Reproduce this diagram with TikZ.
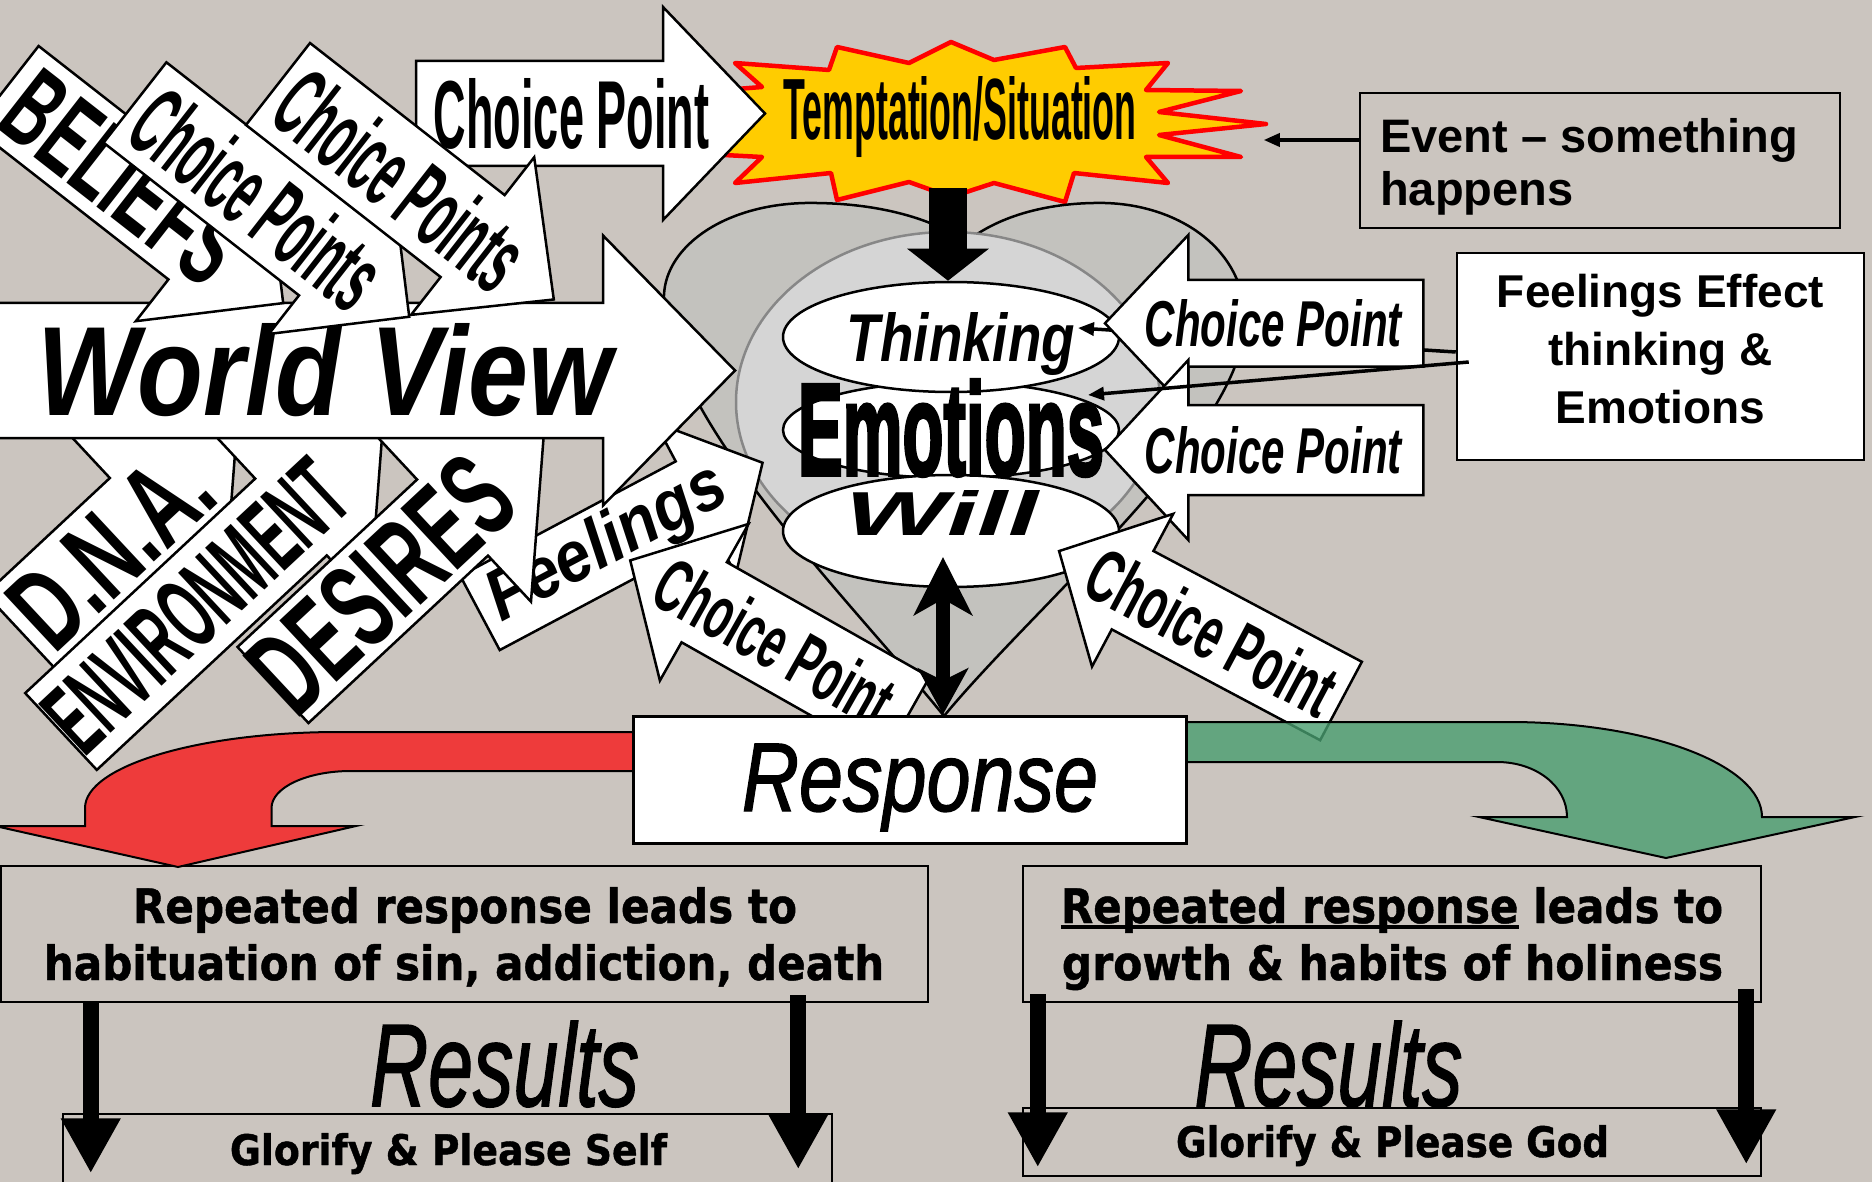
\documentclass[tikz,border=0pt]{standalone}
\usepackage{fontspec}
\usepackage{graphicx}
\setmainfont{Liberation Sans}
\newfontfamily\verdfont[FakeBold=1]{DejaVu Sans}
\newfontfamily\heavyfont[FakeBold=3]{Liberation Sans}
\newfontfamily\semifont[FakeBold=1.5]{Liberation Sans}
\usetikzlibrary{arrows.meta,shapes.geometric,calc}

\definecolor{bggrey}{RGB}{203,197,191}
\definecolor{heartgrey}{RGB}{195,194,190}
\definecolor{innergrey}{RGB}{213,213,213}
\definecolor{circgrey}{RGB}{135,135,135}
\definecolor{burstred}{RGB}{255,0,0}
\definecolor{burstyellow}{RGB}{255,204,0}
\definecolor{bandred}{RGB}{238,59,59}
\definecolor{bandgreen}{RGB}{73,158,112}

% squeeze a text into a given width and height (pt)
\newcommand{\sqz}[3]{\resizebox{#1pt}{#2pt}{#3}}
\newsavebox{\ulbox}
\newcommand{\ulin}[1]{\sbox{\ulbox}{#1}\rlap{\rule[-0.12em]{\wd\ulbox}{0.07em}}\usebox{\ulbox}}
% block arrow: name, tail centre, angle, body length, half width, head length, head half width, text pos, text
\newcommand{\blockarrow}[9]{%
  \begin{scope}[shift={#2},rotate=#3]
    \draw[blk] (0,-#5) -- (#4,-#5) -- (#4,-#7) -- ({#4+#6},0) -- (#4,#7) -- (#4,#5) -- (0,#5) -- cycle;
    \node[transform shape,inner sep=0pt] (#1) at (#8,0) {#9};
  \end{scope}}

\begin{document}
\begin{tikzpicture}[x=1pt,y=-1pt]
  \tikzstyle{blk}=[draw=black,fill=white,line width=2.5pt,line join=miter]
  \tikzstyle{box}=[rectangle,draw,line width=2.5pt,inner sep=0pt]
  \tikzstyle{oval}=[ellipse,draw,fill=white,line width=2.5pt,inner sep=0pt]
  \tikzstyle{txt}=[inner sep=0pt,anchor=base]
  \tikzstyle{thinarrow}=[line width=3.5pt,-{Triangle[length=16pt,width=13pt]}]
  \tikzstyle{fatarrow}=[line width=16pt,-{Triangle[length=55pt,width=56pt]}]
  \useasboundingbox (0,0) rectangle (1872,1182);
  \clip (0,0) rectangle (1872,1182);
  \fill[bggrey] (0,0) rectangle (1872,1182);

  % temptation
  \draw[draw=burstred,fill=burstyellow,line width=4.5pt,line join=round]
    (735,63) -- (829,70) -- (837,47) -- (909,63) -- (951,42) -- (994,60) -- (1065,47) -- (1076,68)
    -- (1168,63) -- (1146,90) -- (1241,91) -- (1159,112) -- (1266,124) -- (1159,135) -- (1241,157)
    -- (1146,157) -- (1168,183) -- (1074,173) -- (1065,202) -- (994,183) -- (951,197) -- (909,182)
    -- (837,200) -- (831,173) -- (735,183) -- (762,157) -- (724,155) -- (715,122) -- (724,90) -- (762,87) -- cycle;
  \coordinate (burst) at (948,118);
  \node[txt] (tempt) at (960,140) {\sqz{353}{63}{\bfseries Temptation/Situation}};

  \blockarrow{cptop}{(416,113.5)}{0}{247}{52.5}{102}{106.5}{155.5}{\sqz{275}{70}{\bfseries Choice Point}}

  \node[box,minimum width=480pt,minimum height=135pt] (ev) at (1600,160.5) {};
  \node[inner sep=0pt,anchor=north west,align=left,font=\fontsize{47}{53}\selectfont\bfseries] (evtxt)
    at (1380,118) {Event – something\\happens};
  \draw[thinarrow] ([yshift=20.5pt]ev.west) -- ++(-95,0);

  \node[box,fill=white,minimum width=407pt,minimum height=207pt] (fe) at (1660.5,356.5) {};
  \node[inner sep=0pt,align=center,font=\fontsize{46}{58}\selectfont\bfseries] (fetxt) at (1660.5,349.5)
    {Feelings Effect\\thinking \&\\Emotions};

  % heart
  \draw[fill=heartgrey,line width=2.5pt] (944,716) .. controls (850,600) and (668,420) .. (664,300)
    .. controls (662,250) and (720,205) .. (805,203) .. controls (880,202) and (935,220) .. (966,242)
    .. controls (1000,215) and (1050,202) .. (1105,203) .. controls (1180,205) and (1245,250) .. (1245,320)
    .. controls (1245,430) and (1040,600) .. (944,716) -- cycle;
  \draw[fill=innergrey,draw=circgrey,line width=2.5pt] (948,402) ellipse [x radius=212pt, y radius=170pt];

  \node[oval,minimum width=336pt,minimum height=96pt] (emo) at (951,430) {};
  \node[oval,minimum width=336pt,minimum height=110pt] (think) at (951,337) {};
  \node[oval,minimum width=336pt,minimum height=112pt] (will) at (951,531) {};
  \node[txt] (thinktxt) at (961,362) {\sqz{228}{49}{\bfseries\itshape Thinking}};
  \node[txt] (emotxt) at (951,475) {\sqz{306}{95}{\heavyfont\bfseries Emotions}};
  \node[txt] (willtxt) at (942,535) {\sqz{192}{45}{\bfseries\itshape Will}};

  \draw[line width=38pt,-{Triangle[length=32pt,width=80pt]}] ([yshift=-70pt]burst) -- (burst |- think.north);
  \draw[thinarrow] ([yshift=4.5pt]fe.west) -- ($(think)+(127,-9)$);

  % world view and its roots
  \blockarrow{dna}{(21,632)}{43}{170}{52}{125}{115}{123}{\sqz{228}{80}{\bfseries D.N.A.}}
  \blockarrow{env}{(61,731.5)}{43}{314.5}{52.5}{125}{115}{184}{\sqz{371}{72}{\bfseries ENVIRONMENT}}
  \blockarrow{feel}{(480,613)}{28}{244}{42}{76}{86}{145}{\sqz{260}{52}{\bfseries\itshape Feelings}}
  \blockarrow{des}{(273,685)}{43}{245.5}{52}{125}{115}{148}{\sqz{309}{85}{\bfseries DESIRES}}
  \blockarrow{wv}{(-3,370.5)}{0}{606}{67.5}{132}{135}{328}{\sqz{574}{92}{\bfseries\itshape World View}}
  \blockarrow{bel}{(6.6,87)}{-38}{246}{52}{105}{105}{148}{\sqz{268}{78}{\bfseries BELIEFS}}
  \blockarrow{cp1}{(135,102.5)}{-38}{248}{51}{100}{100}{156}{\sqz{287}{72}{\bfseries Choice Points}}
  \blockarrow{cp2}{(278,84)}{-38}{247}{52}{103}{100}{156.5}{\sqz{287}{72}{\bfseries Choice Points}}

  % choice points round the heart
  \blockarrow{cpbl}{(907,717)}{150.5}{233}{46}{85}{90}{152}{\rotatebox{180}{\sqz{261}{55}{\bfseries Choice Point}}}
  \blockarrow{cpr1}{(1423.3,323.3)}{180}{235}{43.3}{83.3}{88.3}{150}{\rotatebox{180}{\sqz{257}{47}{\bfseries\itshape Choice Point}}}
  \blockarrow{cpr2}{(1423.3,450)}{180}{235}{45}{83.3}{90}{150}{\rotatebox{180}{\sqz{257}{47}{\bfseries\itshape Choice Point}}}
  \draw[thinarrow] ($(fe.west)+(13,5.5)$) -- ($(emo)+(137,-35)$);
  \blockarrow{cpr3}{(1341,701)}{152}{236}{44.4}{83.3}{86.5}{146.5}{\rotatebox{180}{\sqz{270}{55}{\bfseries Choice Point}}}

  % results
  \node[box,minimum width=927pt,minimum height=136pt] (habl) at (464.5,934) {};
  \node[box,minimum width=738pt,minimum height=136pt] (habr) at (1392,934) {};
  \node[box,minimum width=769pt,minimum height=80pt] (self) at (447.5,1154) {};
  \node[box,minimum width=738pt,minimum height=68pt] (god) at (1392,1142) {};
  \node[txt] (habl1) at (465,923) {\sqz{664}{36}{\verdfont\bfseries Repeated response leads to}};
  \node[txt] (habl2) at (464,980) {\sqz{840}{36}{\verdfont\bfseries habituation of sin, addiction, death}};
  \node[txt] (habr1) at (1392,923) {\sqz{662}{36}{\verdfont\bfseries \ulin{Repeated response} leads to}};
  \node[txt] (habr2) at (1392.5,980) {\sqz{661}{36}{\verdfont\bfseries growth \& habits of holiness}};
  \node[txt] (resl) at (504.5,1106) {\sqz{269}{85}{\semifont\itshape Results}};
  \node[txt] (resr) at (1328.5,1106) {\sqz{268}{85}{\semifont\itshape Results}};
  \node[txt] (glself) at (448.5,1165) {\sqz{437}{32}{\verdfont\bfseries Glorify \& Please Self}};
  \node[txt] (glgod) at (1392.5,1157) {\sqz{433}{32}{\verdfont\bfseries Glorify \& Please God}};
  \draw[fatarrow] ([xshift=91pt,yshift=2pt]habl.south west) -- ++(0,172);
  \draw[fatarrow] ([xshift=-131pt,yshift=8pt]habl.south east) -- ++(0,174);
  \draw[fatarrow] ([xshift=16pt,yshift=9pt]habr.south west) -- ++(0,173);
  \draw[fatarrow] ([xshift=-16pt,yshift=14pt]habr.south east) -- ++(0,175);

  % response
  \draw[fill=bandred,line width=2pt] (633,732) -- (339,732) .. controls (199,732) and (85,766) .. (85,808)
    -- (85,826) -- (-5,826) -- (178,867) -- (356,826) -- (271.5,826) -- (271.5,808)
    .. controls (271.5,787.5) and (307,771) .. (351,771) -- (633,771) -- cycle;
  \draw[fill=bandgreen,fill opacity=0.8,line width=2pt] (1186,722) -- (1509,722) .. controls (1649,722) and (1762,765) .. (1762,817)
    -- (1855,817) -- (1666,858) -- (1479,817) -- (1567,817) .. controls (1567,786) and (1536,762) .. (1497,762)
    -- (1186,762) -- cycle;
  \node[box,fill=white,line width=3pt,minimum width=553pt,minimum height=127pt] (resp) at (909.5,779.5) {};
  \node[txt] (resptxt) at (920,811) {\sqz{356}{67}{\semifont\itshape Response}};
  \draw[line width=14pt,{Stealth[length=58pt,width=58pt,inset=16pt]}-{Stealth[length=46pt,width=50pt,inset=12pt]}]
    ([xshift=-8pt,yshift=-26pt]will.center) -- ([xshift=33.5pt]resp.north);
\end{tikzpicture}
\end{document}
